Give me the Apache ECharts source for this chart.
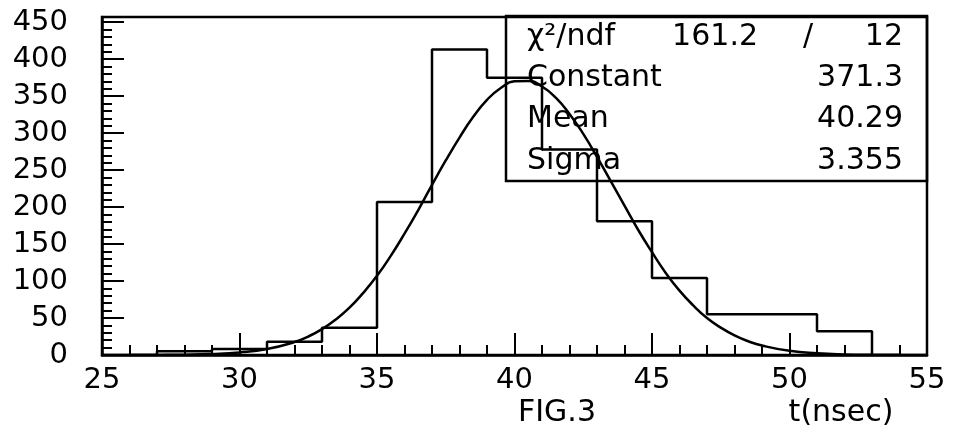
<!DOCTYPE html>
<html>
<head>
<meta charset="utf-8">
<script src="https://cdn.jsdelivr.net/npm/echarts@6/dist/echarts.min.js"></script>
<style>
  html, body { margin: 0; padding: 0; background: #fff; }
  #chart { width: 955px; height: 434px; }
</style>
</head>
<body>
<div id="chart"></div>
<script>
// histogram bins (2 ns wide), edges and counts
const binEdges = [25, 27, 29, 31, 33, 35, 37, 39, 41, 43, 45, 47, 49, 51, 53, 55];
const binCounts = [0, 5, 8, 18, 37, 207, 413, 375, 278, 181, 104, 55, 55, 32, 0];

// fitted gaussian curve
const fitT = [26, 27, 28, 29, 30, 31, 32, 32.5, 33, 33.5, 34, 34.5, 35, 35.5, 36, 36.5, 37, 37.5, 38, 38.5,
  39, 39.5, 40, 40.5, 41, 41.5, 42, 42.5, 43, 43.5, 44, 44.5, 45, 45.5, 46, 46.5, 47, 47.5, 48, 48.5,
  49, 50, 51, 52, 53, 54];
const fitV = [0.04, 0.15, 0.45, 1.3, 3.4, 8.0, 17.5, 25, 35, 48, 64, 84, 107, 134, 164, 196, 230, 263, 294, 322,
  345, 361, 370, 370.6, 363, 348, 326, 299, 268, 235, 202, 169, 139, 111, 87, 67, 50, 37, 26.5, 18.6,
  12.8, 5.6, 2.3, 0.8, 0.3, 0.1];

// stats box
const statNames = ['Constant', 'Mean', 'Sigma'];
const statValues = ['371.3', '40.29', '3.355'];
const chi2 = '161.2';
const ndf = '12';

const FONT = 'DejaVu Sans';
const FS = 30;
const AXFS = 29;
const LW = 2.5;

const histData = binCounts.map((c, i) => [binEdges[i], c]);
histData.push([binEdges[binEdges.length - 1], 0]);
const fitData = fitT.map((t, i) => [t, fitV[i]]);

const chart = echarts.init(document.getElementById('chart'));

const textStyle = { fontFamily: FONT, fontSize: FS, fill: '#000' };
const graphics = [
  {
    type: 'rect',
    shape: { x: 506, y: 16, width: 421, height: 165 },
    style: { fill: 'none', stroke: '#000', lineWidth: LW },
    z: 10
  },
  {
    type: 'text', x: 527, y: 37,
    style: Object.assign({ text: 'χ²/ndf', textVerticalAlign: 'middle' }, textStyle), z: 10
  },
  {
    type: 'text', x: 758, y: 37,
    style: Object.assign({ text: chi2, textAlign: 'right', textVerticalAlign: 'middle' }, textStyle), z: 10
  },
  {
    type: 'text', x: 808, y: 37,
    style: Object.assign({ text: '/', textAlign: 'center', textVerticalAlign: 'middle' }, textStyle), z: 10
  },
  {
    type: 'text', x: 903, y: 37,
    style: Object.assign({ text: ndf, textAlign: 'right', textVerticalAlign: 'middle' }, textStyle), z: 10
  },
  {
    type: 'text', x: 557, y: 413,
    style: Object.assign({ text: 'FIG.3', textAlign: 'center', textVerticalAlign: 'middle' }, textStyle)
  },
  {
    type: 'text', x: 841, y: 413,
    style: Object.assign({ text: 't(nsec)', textAlign: 'center', textVerticalAlign: 'middle' }, textStyle)
  }
];
const rowY = [78, 119, 161];
statNames.forEach((n, i) => {
  graphics.push({
    type: 'text', x: 527, y: rowY[i],
    style: Object.assign({ text: n, textVerticalAlign: 'middle' }, textStyle), z: 10
  });
  graphics.push({
    type: 'text', x: 903, y: rowY[i],
    style: Object.assign({ text: statValues[i], textAlign: 'right', textVerticalAlign: 'middle' }, textStyle), z: 10
  });
});

const option = {
  animation: false,
  grid: {
    left: 102, right: 28, top: 17, bottom: 79,
    show: true, borderColor: '#000', borderWidth: LW
  },
  xAxis: {
    type: 'value',
    min: 25, max: 55, interval: 5,
    splitLine: { show: false },
    axisLine: { lineStyle: { color: '#000', width: LW } },
    axisTick: { inside: true, length: 22, lineStyle: { color: '#000', width: 2 } },
    minorTick: { show: true, splitNumber: 5, length: 10, lineStyle: { color: '#000', width: 2 } },
    axisLabel: { color: '#000', fontFamily: FONT, fontSize: AXFS, margin: 11 }
  },
  yAxis: [
    {
      type: 'value',
      min: 0, max: 457, interval: 50,
      splitLine: { show: false },
      axisLine: { show: true, lineStyle: { color: '#000', width: LW } },
      axisTick: { inside: true, length: 22, lineStyle: { color: '#000', width: 2 } },
      axisLabel: { color: '#000', fontFamily: FONT, fontSize: AXFS, margin: 34, showMaxLabel: false,
        formatter: v => (v % 50 === 0 ? String(v) : '') }
    },
    {
      type: 'value',
      position: 'left',
      min: 0, max: 457, interval: 10,
      splitLine: { show: false },
      axisLine: { show: false },
      axisTick: { inside: true, length: 10, lineStyle: { color: '#000', width: 2 } },
      axisLabel: { show: false }
    }
  ],
  series: [
    {
      name: 'hist',
      type: 'line',
      step: 'end',
      data: histData,
      symbol: 'none',
      lineStyle: { color: '#000', width: LW },
      z: 3
    },
    {
      name: 'gaus',
      type: 'line',
      smooth: true,
      data: fitData,
      symbol: 'none',
      lineStyle: { color: '#000', width: LW },
      z: 4
    }
  ],
  graphic: graphics
};

chart.setOption(option);
window.addEventListener('resize', () => chart.resize());
</script>
</body>
</html>
